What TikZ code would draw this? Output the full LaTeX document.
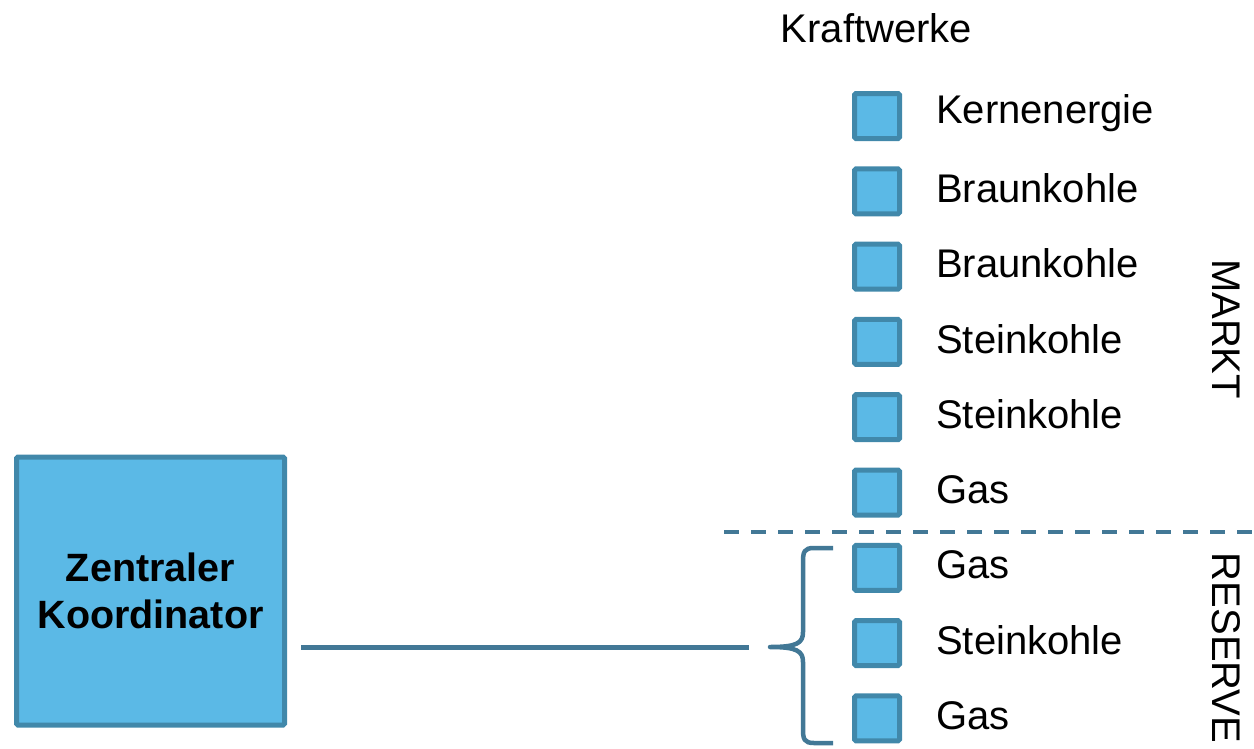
\documentclass[tikz,border=0pt]{standalone}
\usepackage{fontspec}
\setmainfont{Liberation Sans}
\definecolor{boxfill}{RGB}{91,185,230}
\definecolor{boxedge}{RGB}{65,136,170}
\definecolor{linkcol}{RGB}{66,120,150}
\tikzset{
  plant/.style={draw=boxedge, fill=boxfill, line width=5pt, minimum size=45pt, inner sep=0pt, rounded corners=1.5pt},
  plantlabel/.style={anchor=west, inner sep=0pt, font=\fontsize{40}{46}\selectfont},
  sidelabel/.style={rotate=-90, inner sep=0pt, font=\fontsize{40}{46}\selectfont},
}
\begin{document}
\begin{tikzpicture}[x=1pt,y=-1pt]
\useasboundingbox (0,0) rectangle (1254,748);

% central coordinator
\node[draw=boxedge, fill=boxfill, line width=5pt, minimum width=268pt, minimum height=268pt,
      inner sep=0pt, rounded corners=1.5pt, align=center,
      font=\bfseries\fontsize{39.5}{47}\selectfont] (zk) at (150.5,591) {Zentraler\\Koordinator};

% heading
\node[inner sep=0pt, font=\fontsize{40}{46}\selectfont] (kw) at (876.5,28) {Kraftwerke};

% power plants
\foreach \i/\name/\lbl in {0/p1/Kernenergie,1/p2/Braunkohle,2/p3/Braunkohle,3/p4/Steinkohle,
  4/p5/Steinkohle,5/p6/Gas,6/p7/Gas,7/p8/Steinkohle,8/p9/Gas}{
  \node[plant] (\name) at (877,116+75.3*\i) {};
  \node[plantlabel] (\name l) at (936,113+75.3*\i) {\lbl};
}

% market / reserve split
\coordinate (dl) at (724,532);
\coordinate (dr) at (1254,532);
\draw[linkcol, line width=3.5pt, dash pattern=on 15pt off 12pt] (dl) -- (dr);

\node[sidelabel] (markt) at (1226,329) {MARKT};
\node[sidelabel] (res) at (1226,648) {RESERVE};

% brace grouping the reserve plants
\coordinate (bt) at (833,548);
\coordinate (bb) at (833,743);
\coordinate (btip) at (770,647);
\draw[linkcol, line width=4.5pt, line join=round]
  (bt) -- (814,548) .. controls (804,548) and (803,552) .. (803,562)
  -- (803,632) .. controls (803,643) and (797,647) .. (btip)
  .. controls (797,647) and (803,651) .. (803,662)
  -- (803,729) .. controls (803,739) and (804,743) .. (814,743) -- (bb);

% link from coordinator to the reserve group
\coordinate (lk) at (749,647);
\draw[linkcol, line width=5pt] (zk.east) ++(14,56) -- (lk);
\end{tikzpicture}
\end{document}
